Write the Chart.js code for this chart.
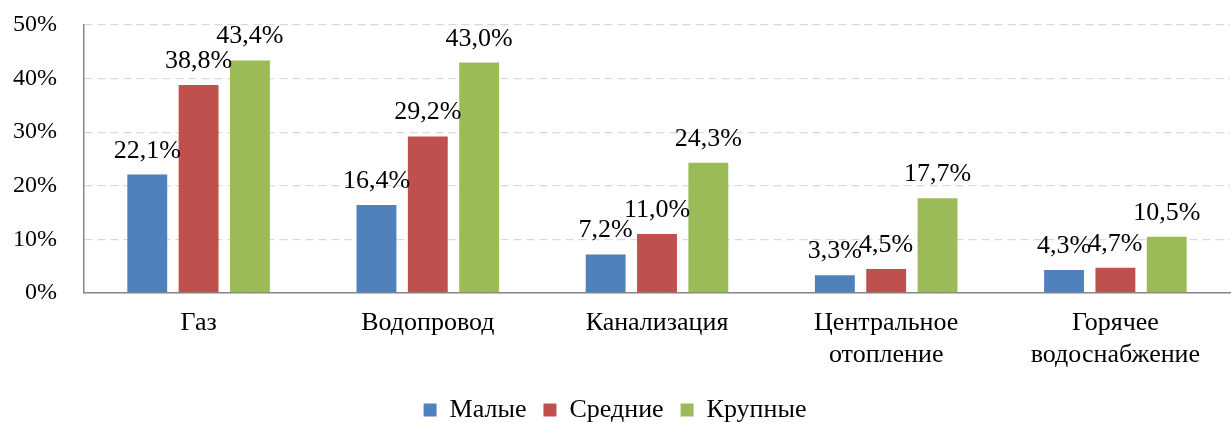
<!DOCTYPE html>
<html>
<head>
<meta charset="utf-8">
<script src="https://cdn.jsdelivr.net/npm/chart.js@4/dist/chart.umd.min.js"></script>
<style>
html,body{margin:0;padding:0;background:#fff;}
#wrap{width:1232px;height:423px;position:relative;}
</style>
</head>
<body>
<div id="wrap"><canvas id="c" width="1232" height="423"></canvas></div>
<script>
const categories = [["Газ"], ["Водопровод"], ["Канализация"], ["Центральное", "отопление"], ["Горячее", "водоснабжение"]];
const seriesNames = ["Малые", "Средние", "Крупные"];
const small = [22.1, 16.4, 7.2, 3.3, 4.3];
const medium = [38.8, 29.2, 11.0, 4.5, 4.7];
const large = [43.4, 43.0, 24.3, 17.7, 10.5];
const yTicks = [0, 10, 20, 30, 40, 50];
const colors = ["#4F81BD", "#C0504D", "#9BBB59"];

const FONT = "'Liberation Serif', 'Times New Roman', serif";

const labelPlugin = {
  id: 'barLabels',
  afterDatasetsDraw(chart) {
    const ctx = chart.ctx;
    ctx.save();
    ctx.font = "26px " + FONT;
    ctx.fillStyle = "#000";
    ctx.textAlign = "center";
    ctx.textBaseline = "alphabetic";
    chart.data.datasets.forEach((ds, di) => {
      const meta = chart.getDatasetMeta(di);
      meta.data.forEach((bar, i) => {
        const v = ds.data[i];
        const txt = v.toFixed(1).replace('.', ',') + '%';
        ctx.fillText(txt, bar.x, bar.y - 17);
      });
    });
    ctx.restore();
  }
};

new Chart(document.getElementById('c'), {
  type: 'bar',
  data: {
    labels: categories,
    datasets: [
      { label: seriesNames[0], data: small, backgroundColor: colors[0] },
      { label: seriesNames[1], data: medium, backgroundColor: colors[1] },
      { label: seriesNames[2], data: large, backgroundColor: colors[2] }
    ]
  },
  options: {
    responsive: false,
    animation: false,
    devicePixelRatio: 1,
    layout: { padding: { top: 25, right: 2, left: 0, bottom: -10 } },
    datasets: { bar: { categoryPercentage: 0.672, barPercentage: 0.777 } },
    plugins: {
      legend: {
        position: 'bottom',
        labels: {
          font: { family: FONT, size: 26 },
          color: '#000',
          boxWidth: 13,
          boxHeight: 13,
          padding: 17
        }
      },
      tooltip: { enabled: false }
    },
    scales: {
      x: {
        grid: { display: false, drawTicks: false },
        border: { display: true, color: '#868686', width: 1.5 },
        ticks: { font: { family: FONT, size: 26 }, color: '#000', padding: 15, maxRotation: 0, autoSkip: false },
        afterFit(scale) { scale.height = 87; }
      },
      y: {
        min: 0, max: 50,
        afterBuildTicks(scale) { scale.ticks = yTicks.map(v => ({ value: v })); },
        grid: { color: '#D9D9D9', lineWidth: 1.3, drawTicks: false },
        border: { display: true, color: '#868686', width: 1.5, dash: [8, 5] },
        ticks: {
          font: { family: FONT, size: 24 }, color: '#000', padding: 27,
          callback: v => v + '%'
        },
        afterFit(scale) { scale.width = 84; scale.paddingTop = 0; scale.paddingBottom = 0; }
      }
    }
  },
  plugins: [labelPlugin]
});
</script>
</body>
</html>
